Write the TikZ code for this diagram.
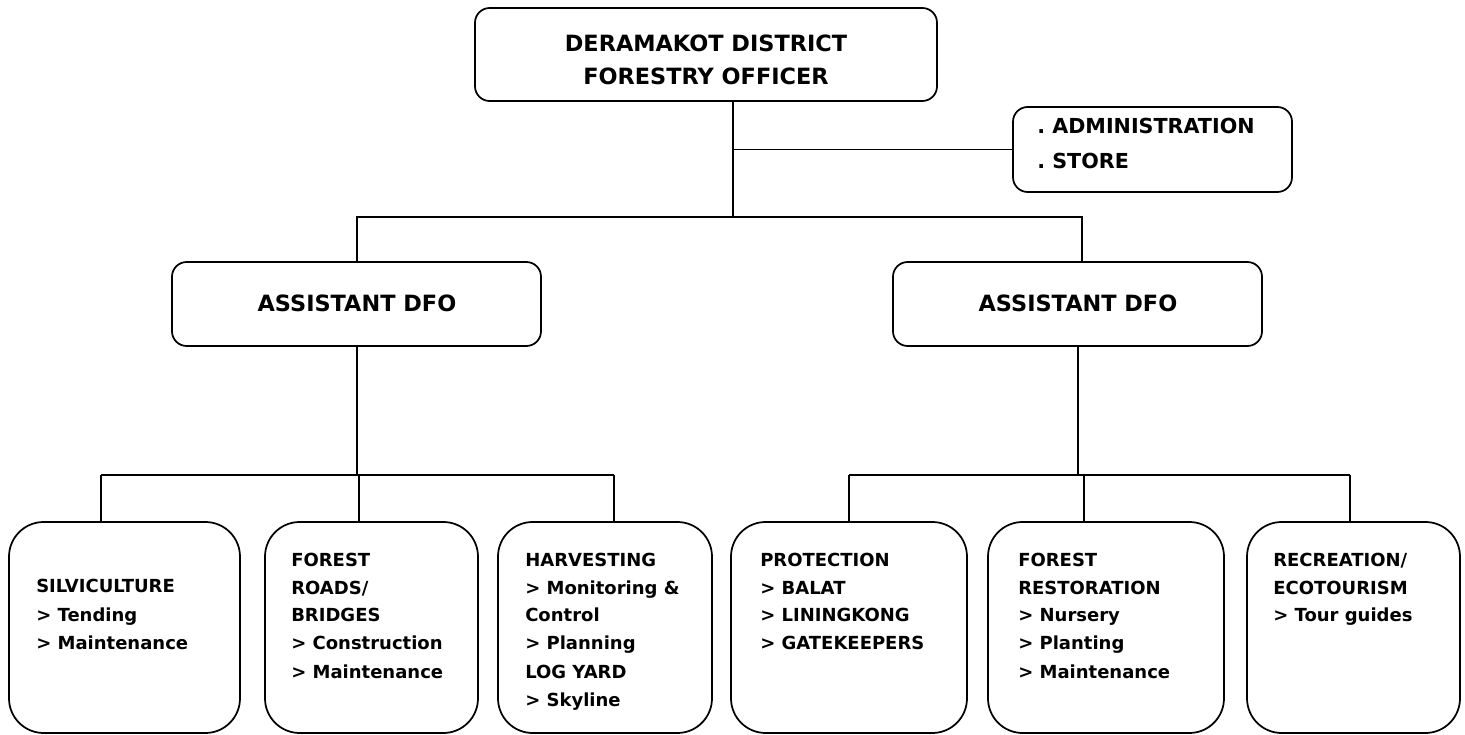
\documentclass[tikz,border=0pt]{standalone}
\usepackage{fontspec}
\setmainfont{DejaVu Sans}
\begin{document}
\begin{tikzpicture}[x=0.75pt,y=-0.75pt,
  box/.style={draw, line width=1.3pt, rounded corners=#1, inner sep=0pt},
  box/.default=11pt,
  txt/.style={anchor=base west, inner sep=0pt, font=\bfseries\fontsize{13.5}{21}\selectfont},
  adm/.style={anchor=base west, inner sep=0pt, font=\bfseries\fontsize{15.5}{21}\selectfont},
  ttl/.style={anchor=base, inner sep=0pt, font=\bfseries\fontsize{16.8}{24}\selectfont, align=center},
  link/.style={line width=1.3pt}]
\useasboundingbox (0,0) rectangle (1465,735);
% boxes
\node[box, minimum width=462*0.75pt, minimum height=93*0.75pt] (top) at (706,54.5) {};
\node[box, minimum width=279*0.75pt, minimum height=85*0.75pt] (admin) at (1152.5,149.5) {};
\node[box, minimum width=369*0.75pt, minimum height=84*0.75pt] (ad1) at (356.5,304) {};
\node[box, minimum width=369*0.75pt, minimum height=84*0.75pt] (ad2) at (1077.5,304) {};
\foreach \n/\a/\b in {s1/9/240, s2/265/478, s3/498/712, s4/731/967, s5/988/1224, s6/1247/1460}{
  \node[box=26pt, minimum width={(\b-\a)*0.75pt}, minimum height=211*0.75pt] (\n) at ({(\a+\b)/2},627.5) {};
}
% texts
\node[ttl] (t1) at (706,52) {DERAMAKOT DISTRICT};
\node[ttl] (t2) at (706,85) {FORESTRY OFFICER};
\node[adm] (a1) at (1037,133) {.~ADMINISTRATION};
\node[adm] (a2) at (1037,169) {.~STORE};
\node[ttl] (d1) at (357,311) {ASSISTANT DFO};
\node[ttl] (d2) at (1078,311) {ASSISTANT DFO};
% bottom box texts
\node[txt] at (36,592) {SILVICULTURE};
\node[txt] at (36,621) {> Tending};
\node[txt] at (36,649) {> Maintenance};
\node[txt] at (291,566) {FOREST};
\node[txt] at (291,594) {ROADS/};
\node[txt] at (291,621) {BRIDGES};
\node[txt] at (291,649) {> Construction};
\node[txt] at (291,678) {> Maintenance};
\node[txt] at (525,566) {HARVESTING};
\node[txt] at (525,594) {> Monitoring \&};
\node[txt] at (525,621) {Control};
\node[txt] at (525,649) {> Planning};
\node[txt] at (525,678) {LOG YARD};
\node[txt] at (525,706) {> Skyline};
\node[txt] at (760,566) {PROTECTION};
\node[txt] at (760,594) {> BALAT};
\node[txt] at (760,621) {> LININGKONG};
\node[txt] at (760,649) {> GATEKEEPERS};
\node[txt] at (1018,566) {FOREST};
\node[txt] at (1018,594) {RESTORATION};
\node[txt] at (1018,621) {> Nursery};
\node[txt] at (1018,649) {> Planting};
\node[txt] at (1018,678) {> Maintenance};
\node[txt] at (1273,566) {RECREATION/};
\node[txt] at (1273,594) {ECOTOURISM};
\node[txt] at (1273,621) {> Tour guides};
% connectors
\coordinate (j1) at (733,217);
\coordinate (j0) at (357,217);
\coordinate (j2) at (1082,217);
\coordinate (j3) at (357,475);
\coordinate (j4) at (1078,475);
\draw[link] (top.south -| j1) -- (j1);
\draw[link] (j1 |- admin.west) -- (admin.west);
\draw[link] (ad1.north -| j0) -- (j0) -- (j2) -- (ad2.north -| j2);
\draw[link] (ad1.south -| j3) -- (j3);
\draw[link] (ad2.south -| j4) -- (j4);
\foreach \n/\x in {s1/101, s2/359, s3/614}{
  \draw[link] (\n.north -| \x,0) -- (\x,475);
}
\draw[link] (101,475) -- (614,475);
\foreach \n/\x in {s4/849, s5/1084, s6/1350}{
  \draw[link] (\n.north -| \x,0) -- (\x,475);
}
\draw[link] (849,475) -- (1350,475);
\end{tikzpicture}
\end{document}
